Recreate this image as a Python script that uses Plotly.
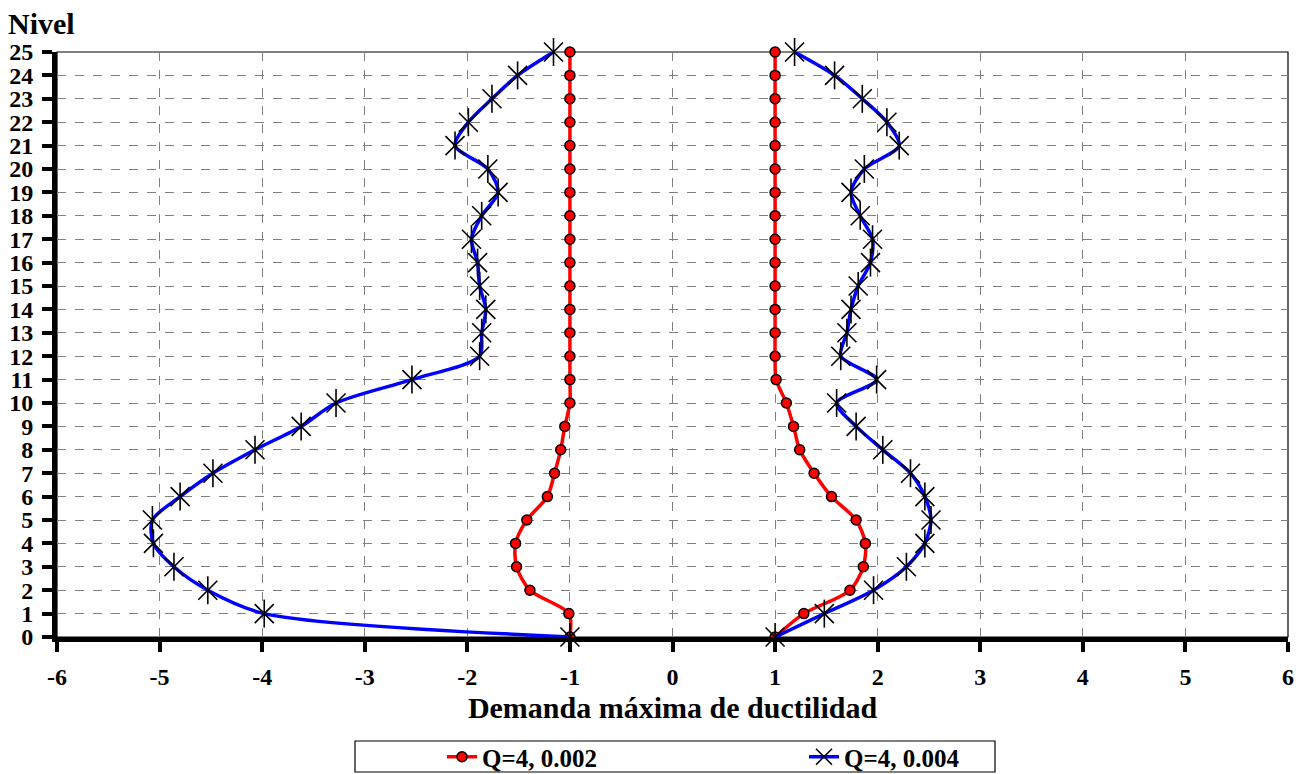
import plotly.graph_objects as go

# --- data ---
niveles = list(range(0, 26))

# Q=4, 0.002 (red) - negative and positive sides
red_left = [-1.00, -1.01, -1.39, -1.52, -1.53, -1.42, -1.22, -1.15, -1.09, -1.05,
            -1.00, -1.00, -1.00, -1.00, -1.00, -1.00, -1.00, -1.00, -1.00, -1.00,
            -1.00, -1.00, -1.00, -1.00, -1.00, -1.00]
red_right = [1.00, 1.28, 1.73, 1.86, 1.88, 1.79, 1.55, 1.38, 1.24, 1.18,
             1.11, 1.01, 1.00, 1.00, 1.00, 1.00, 1.00, 1.00, 1.00, 1.00,
             1.00, 1.00, 1.00, 1.00, 1.00, 1.00]

# Q=4, 0.004 (blue) - negative and positive sides
blue_left = [-1.00, -3.98, -4.53, -4.86, -5.06, -5.07, -4.80, -4.48, -4.07, -3.62,
             -3.28, -2.54, -1.88, -1.86, -1.82, -1.88, -1.90, -1.96, -1.86, -1.70,
             -1.80, -2.12, -1.99, -1.76, -1.51, -1.16]
blue_right = [1.00, 1.48, 1.96, 2.28, 2.46, 2.52, 2.46, 2.32, 2.05, 1.79,
              1.60, 1.99, 1.64, 1.70, 1.74, 1.81, 1.93, 1.95, 1.83, 1.74,
              1.87, 2.21, 2.09, 1.85, 1.58, 1.19]

x_ticks = list(range(-6, 7))
series_names = ["Q=4, 0.002", "Q=4, 0.004"]

FONT = "Liberation Serif"

fig = go.Figure()

# red series
for i, xs in enumerate([red_left, red_right]):
    fig.add_trace(go.Scatter(
        x=xs, y=niveles, mode="lines+markers",
        name=series_names[0], legendgroup="red", showlegend=(i == 0),
        line=dict(color="#ff0000", width=3.5, shape="spline", smoothing=0.8),
        marker=dict(symbol="circle", size=10, color="#ff0000",
                    line=dict(color="black", width=1.5)),
        cliponaxis=False,
    ))

# blue series (star marker = X plus vertical bar)
for i, xs in enumerate([blue_left, blue_right]):
    fig.add_trace(go.Scatter(
        x=xs, y=niveles, mode="lines+markers",
        name=series_names[1], legendgroup="blue", showlegend=(i == 0),
        line=dict(color="#0000ff", width=3.5, shape="spline", smoothing=0.8),
        marker=dict(symbol="x-thin-open", size=19, color="black",
                    line=dict(color="black", width=1.6)),
        cliponaxis=False,
    ))
    fig.add_trace(go.Scatter(
        x=xs, y=niveles, mode="markers", showlegend=False, legendgroup="blue",
        marker=dict(symbol="line-ns-open", size=20, color="black",
                    line=dict(color="black", width=1.6)),
        cliponaxis=False, hoverinfo="skip",
    ))

tick_font = dict(family=FONT, size=24, color="black", weight="bold")

fig.update_xaxes(
    range=[-6, 6], tickvals=x_ticks, ticktext=[str(v) for v in x_ticks],
    showgrid=True, gridcolor="#808080", gridwidth=1, griddash="dash",
    zeroline=False, showline=True, linecolor="black", linewidth=5,
    ticks="outside", ticklen=10, tickwidth=4, tickcolor="black",
    tickfont=tick_font, ticklabelstandoff=4,
    title=dict(text="Demanda máxima de ductilidad",
               font=dict(family=FONT, size=30, color="black", weight="bold"),
               standoff=10),
)
fig.update_yaxes(
    range=[0, 25], tickvals=niveles, ticktext=[str(v) for v in niveles],
    showgrid=True, gridcolor="#808080", gridwidth=1, griddash="dash",
    zeroline=False, showline=True, linecolor="black", linewidth=5,
    ticks="outside", ticklen=10, tickwidth=4, tickcolor="black",
    tickfont=tick_font, ticklabelstandoff=4,
)

# thin frame on top/right, legend box
fig.add_shape(type="rect", xref="paper", yref="paper", x0=0, x1=1, y0=0, y1=1,
              line=dict(color="black", width=1.2), layer="below")
fig.add_shape(type="rect", xref="paper", yref="paper",
              x0=(355 - 57) / 1231, x1=(995 - 57) / 1231,
              y0=(637 - 772) / 585, y1=(637 - 741) / 585,
              line=dict(color="black", width=1.2))

fig.add_annotation(text="Nivel", xref="paper", yref="paper",
                   x=(6 - 57) / 1231, y=(637 - 24) / 585,
                   xanchor="left", yanchor="middle", showarrow=False,
                   font=dict(family=FONT, size=30, color="black", weight="bold"))

# page body adds an 8px offset, so the figure is 8px smaller and margins shifted
fig.update_layout(
    width=1298, height=766,
    margin=dict(l=49, r=18, t=44, b=137, autoexpand=False),
    plot_bgcolor="white", paper_bgcolor="white",
    font=dict(family=FONT, color="black"),
    legend=dict(orientation="h", x=(442 - 57) / 1231, xanchor="left",
                y=(637 - 757) / 585, yanchor="middle",
                entrywidth=317, entrywidthmode="pixels",
                font=dict(family=FONT, size=25, color="black", weight="bold"),
                bgcolor="rgba(0,0,0,0)", borderwidth=0),
)

fig.write_html("out.html")
